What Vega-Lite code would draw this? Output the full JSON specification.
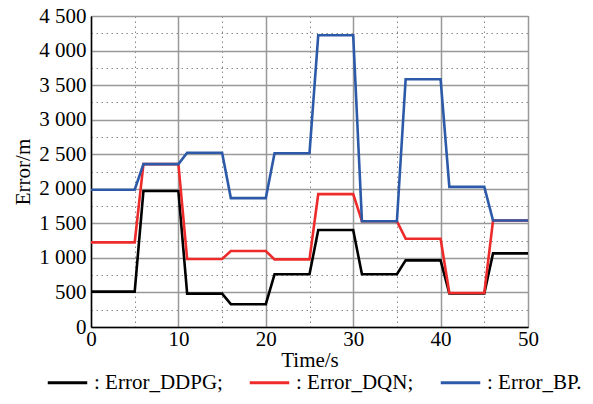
{
  "$schema": "https://vega.github.io/schema/vega-lite/v6.json",
  "width": 437,
  "height": 311,
  "padding": {"left": 12, "top": 5, "right": 5, "bottom": 5},
  "background": "white",
  "config": {
    "font": "Liberation Serif",
    "axis": {"labelFont": "Liberation Serif", "titleFont": "Liberation Serif"},
    "legend": {"labelFont": "Liberation Serif"},
    "view": {"stroke": "#444", "strokeWidth": 1}
  },
  "data": {
    "values": [
      {"t": 0, "e": 512, "s": ": Error_DDPG;"},
      {"t": 5, "e": 512, "s": ": Error_DDPG;"},
      {"t": 6, "e": 1968, "s": ": Error_DDPG;"},
      {"t": 10, "e": 1968, "s": ": Error_DDPG;"},
      {"t": 11, "e": 483, "s": ": Error_DDPG;"},
      {"t": 15, "e": 483, "s": ": Error_DDPG;"},
      {"t": 16, "e": 330, "s": ": Error_DDPG;"},
      {"t": 20, "e": 330, "s": ": Error_DDPG;"},
      {"t": 21, "e": 763, "s": ": Error_DDPG;"},
      {"t": 25, "e": 763, "s": ": Error_DDPG;"},
      {"t": 26, "e": 1403, "s": ": Error_DDPG;"},
      {"t": 30, "e": 1403, "s": ": Error_DDPG;"},
      {"t": 31, "e": 763, "s": ": Error_DDPG;"},
      {"t": 35, "e": 763, "s": ": Error_DDPG;"},
      {"t": 36, "e": 964, "s": ": Error_DDPG;"},
      {"t": 40, "e": 964, "s": ": Error_DDPG;"},
      {"t": 41, "e": 487, "s": ": Error_DDPG;"},
      {"t": 45, "e": 487, "s": ": Error_DDPG;"},
      {"t": 46, "e": 1066, "s": ": Error_DDPG;"},
      {"t": 50, "e": 1066, "s": ": Error_DDPG;"},
      {"t": 0, "e": 1225, "s": ": Error_DQN;"},
      {"t": 5, "e": 1225, "s": ": Error_DQN;"},
      {"t": 6, "e": 2357, "s": ": Error_DQN;"},
      {"t": 10, "e": 2357, "s": ": Error_DQN;"},
      {"t": 11, "e": 983, "s": ": Error_DQN;"},
      {"t": 15, "e": 983, "s": ": Error_DQN;"},
      {"t": 16, "e": 1099, "s": ": Error_DQN;"},
      {"t": 20, "e": 1099, "s": ": Error_DQN;"},
      {"t": 21, "e": 978, "s": ": Error_DQN;"},
      {"t": 25, "e": 978, "s": ": Error_DQN;"},
      {"t": 26, "e": 1923, "s": ": Error_DQN;"},
      {"t": 30, "e": 1923, "s": ": Error_DQN;"},
      {"t": 31, "e": 1530, "s": ": Error_DQN;"},
      {"t": 35, "e": 1530, "s": ": Error_DQN;"},
      {"t": 36, "e": 1278, "s": ": Error_DQN;"},
      {"t": 40, "e": 1278, "s": ": Error_DQN;"},
      {"t": 41, "e": 493, "s": ": Error_DQN;"},
      {"t": 45, "e": 493, "s": ": Error_DQN;"},
      {"t": 46, "e": 1540, "s": ": Error_DQN;"},
      {"t": 50, "e": 1540, "s": ": Error_DQN;"},
      {"t": 0, "e": 1987, "s": ": Error_BP."},
      {"t": 5, "e": 1987, "s": ": Error_BP."},
      {"t": 6, "e": 2357, "s": ": Error_BP."},
      {"t": 10, "e": 2357, "s": ": Error_BP."},
      {"t": 11, "e": 2522, "s": ": Error_BP."},
      {"t": 15, "e": 2522, "s": ": Error_BP."},
      {"t": 16, "e": 1865, "s": ": Error_BP."},
      {"t": 20, "e": 1865, "s": ": Error_BP."},
      {"t": 21, "e": 2515, "s": ": Error_BP."},
      {"t": 25, "e": 2515, "s": ": Error_BP."},
      {"t": 26, "e": 4222, "s": ": Error_BP."},
      {"t": 30, "e": 4222, "s": ": Error_BP."},
      {"t": 31, "e": 1530, "s": ": Error_BP."},
      {"t": 35, "e": 1530, "s": ": Error_BP."},
      {"t": 36, "e": 3585, "s": ": Error_BP."},
      {"t": 40, "e": 3585, "s": ": Error_BP."},
      {"t": 41, "e": 2027, "s": ": Error_BP."},
      {"t": 45, "e": 2027, "s": ": Error_BP."},
      {"t": 46, "e": 1540, "s": ": Error_BP."},
      {"t": 50, "e": 1540, "s": ": Error_BP."}
    ]
  },
  "mark": {"type": "line", "strokeWidth": 2.6, "strokeJoin": "miter"},
  "encoding": {
    "x": {
      "field": "t",
      "type": "quantitative",
      "scale": {"domain": [0, 50], "nice": false},
      "axis": {
        "title": "Time/s",
        "titleFont": "Liberation Serif",
        "titleFontSize": 21,
        "titleFontWeight": "normal",
        "titleColor": "#000",
        "titlePadding": 0,
        "values": [0, 5, 10, 15, 20, 25, 30, 35, 40, 45, 50],
        "labelExpr": "datum.value % 10 === 0 ? datum.label : ''",
        "labelFont": "Liberation Serif",
        "labelFontSize": 21,
        "labelColor": "#000",
        "labelPadding": 1,
        "labelFlush": false,
        "ticks": false,
        "domainColor": "#000",
        "domainWidth": 1.5,
        "grid": true,
        "gridColor": {"condition": {"test": "datum.value % 10 !== 0", "value": "#888"}, "value": "#999"},
        "gridDash": {"condition": {"test": "datum.value % 10 !== 0", "value": [1.5, 3.5]}, "value": []},
        "gridWidth": {"condition": {"test": "datum.value % 10 !== 0", "value": 1}, "value": 1.5}
      }
    },
    "y": {
      "field": "e",
      "type": "quantitative",
      "scale": {"domain": [0, 4500], "nice": false},
      "axis": {
        "title": "Error/m",
        "titleFont": "Liberation Serif",
        "titleFontSize": 21,
        "titleFontWeight": "normal",
        "titleColor": "#000",
        "titlePadding": 5,
        "values": [0, 250, 500, 750, 1000, 1250, 1500, 1750, 2000, 2250, 2500, 2750, 3000, 3250, 3500, 3750, 4000, 4250, 4500],
        "labelExpr": "datum.value % 500 === 0 ? replace(format(datum.value, ','), ',', ' ') : ''",
        "labelFont": "Liberation Serif",
        "labelFontSize": 21,
        "labelColor": "#000",
        "labelPadding": 5,
        "labelFlush": false,
        "ticks": false,
        "domainColor": "#000",
        "domainWidth": 1.5,
        "grid": true,
        "gridColor": {"condition": {"test": "datum.value % 500 !== 0", "value": "#888"}, "value": "#999"},
        "gridDash": {"condition": {"test": "datum.value % 500 !== 0", "value": [1.5, 3.5]}, "value": []},
        "gridWidth": {"condition": {"test": "datum.value % 500 !== 0", "value": 1}, "value": 1.5}
      }
    },
    "color": {
      "field": "s",
      "type": "nominal",
      "scale": {
        "domain": [": Error_DDPG;", ": Error_DQN;", ": Error_BP."],
        "range": ["#000000", "#ee2b2b", "#2c5aa8"]
      },
      "legend": {
        "title": null,
        "orient": "none",
        "direction": "horizontal",
        "legendX": -45,
        "legendY": 345,
        "symbolType": "stroke",
        "symbolSize": 1560,
        "symbolStrokeWidth": 3,
        "labelFont": "Liberation Serif",
        "labelFontSize": 21,
        "labelColor": "#000",
        "labelOffset": 5,
        "labelLimit": 300,
        "columnPadding": 20
      }
    }
  }
}
